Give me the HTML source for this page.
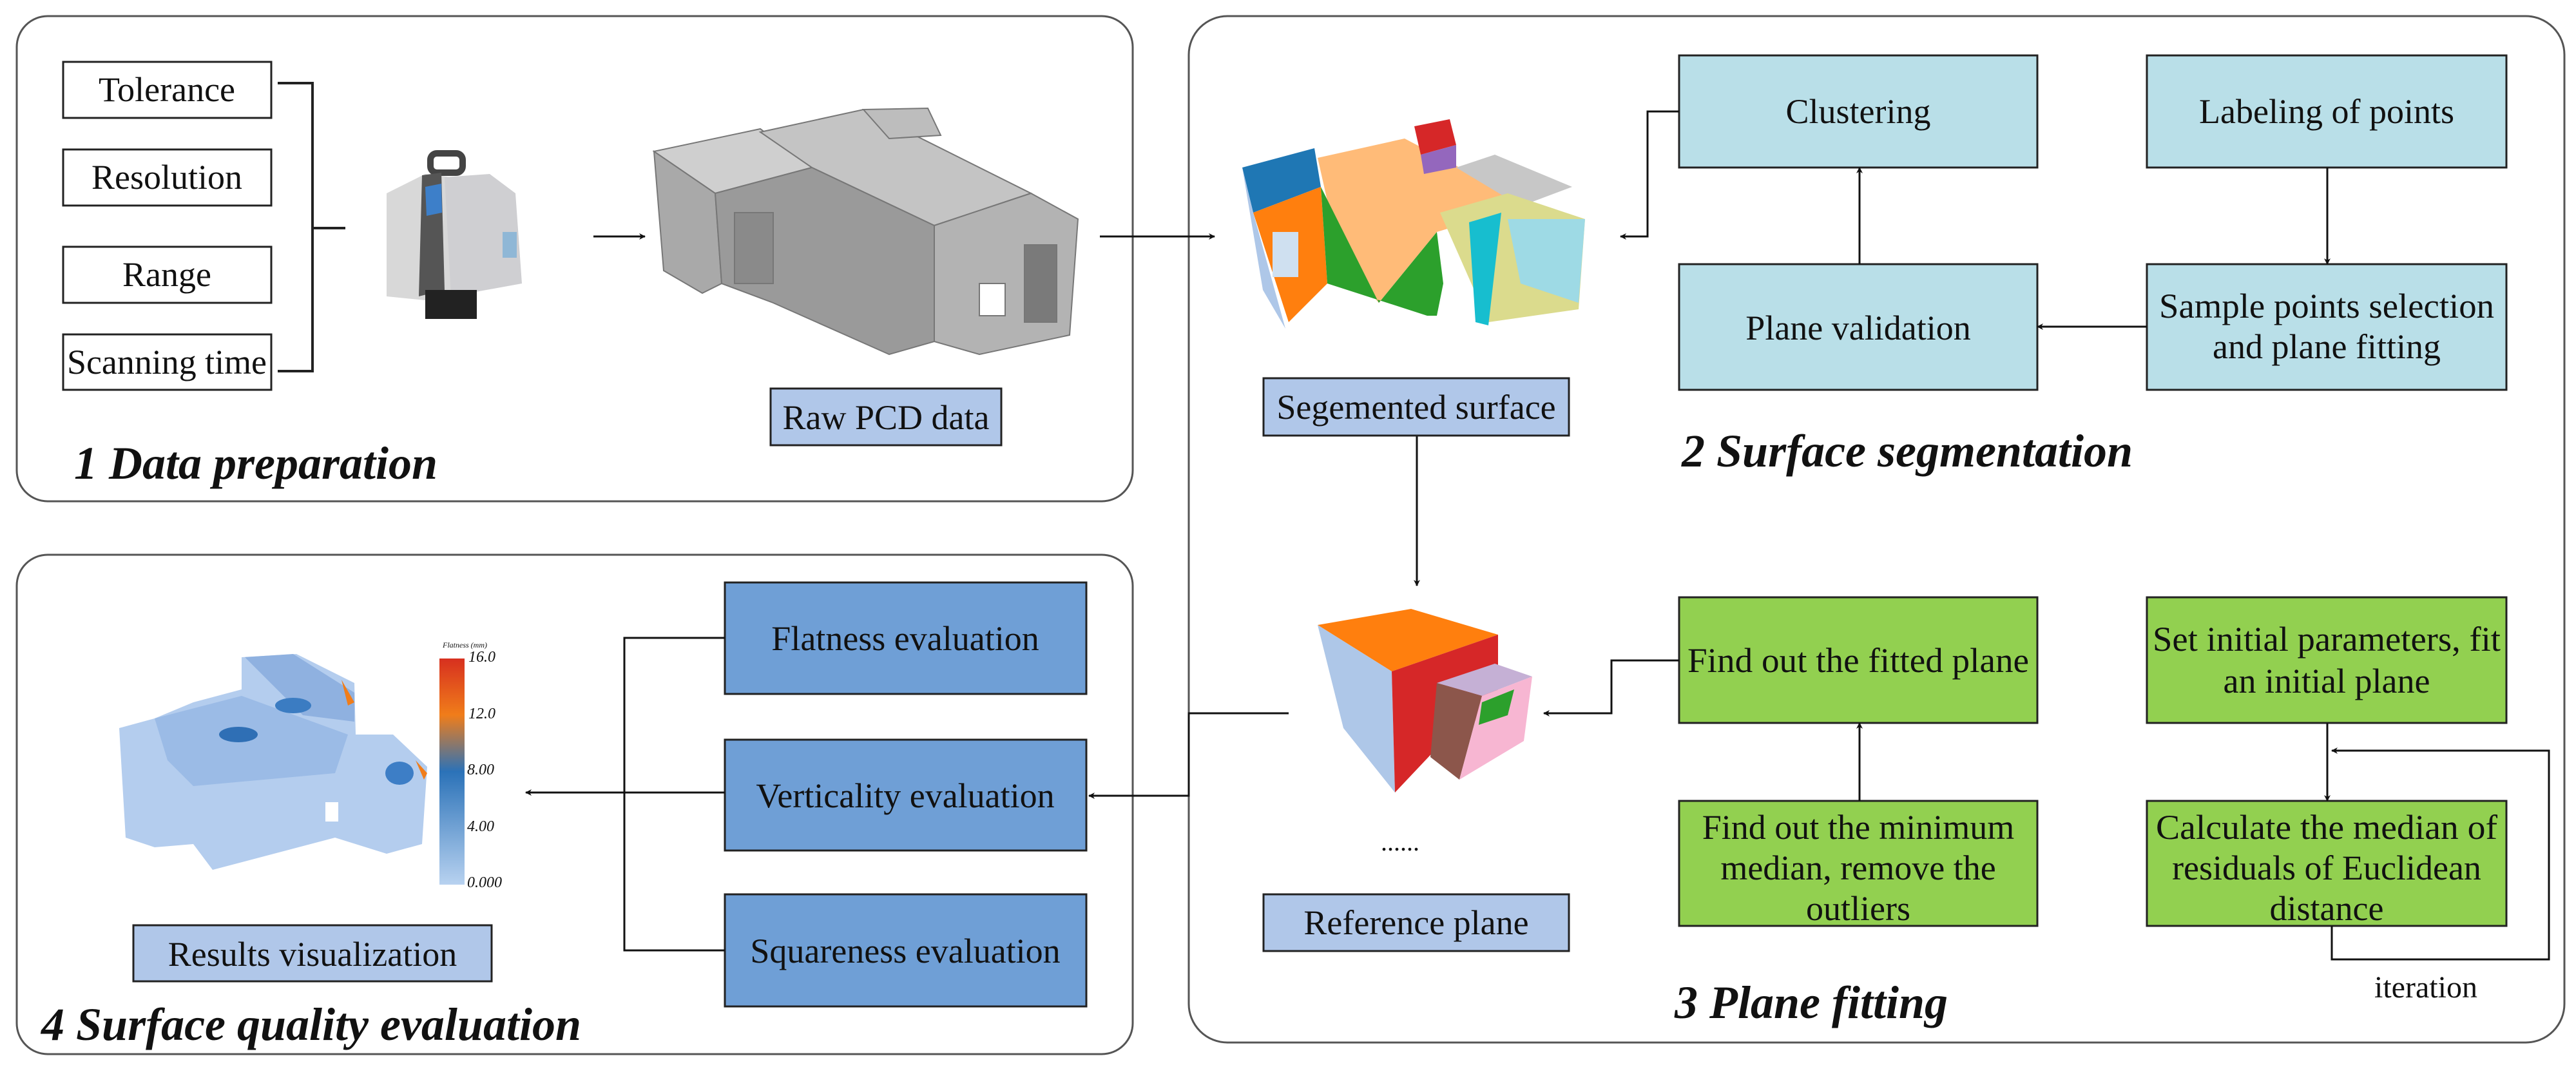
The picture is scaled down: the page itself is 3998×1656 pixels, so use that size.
<!DOCTYPE html>
<html><head><meta charset="utf-8"><style>
html,body{margin:0;padding:0;background:#fff;}
svg{display:block}
text{font-family:"Liberation Serif","Times New Roman",serif;fill:#111}
.t{font-family:"Liberation Serif","Times New Roman",serif;font-size:54px;text-anchor:middle}
.h{font-family:"Liberation Serif","Times New Roman",serif;font-size:72px;font-weight:bold;font-style:italic}
</style></head><body>
<svg width="3998" height="1656" viewBox="0 0 3998 1656" xmlns="http://www.w3.org/2000/svg" font-family="Liberation Serif, serif">
<defs>
<marker id="a" markerWidth="10" markerHeight="10" refX="9" refY="5" orient="auto" markerUnits="userSpaceOnUse" viewBox="0 0 10 10"><path d="M0,0 L10,5 L0,10 L3,5 z" fill="#111"/></marker>
<linearGradient id="cb" x1="0" y1="0" x2="0" y2="1">
<stop offset="0" stop-color="#d7301f"/><stop offset="0.25" stop-color="#f07d1a"/><stop offset="0.5" stop-color="#2b72b8"/><stop offset="1" stop-color="#b8d2f0"/></linearGradient>
</defs>
<g fill="none" stroke="#555" stroke-width="3">
<rect x="26" y="25" width="1732" height="753" rx="48"/>
<rect x="26" y="861" width="1732" height="775" rx="48"/>
<rect x="1845" y="25" width="2135" height="1593" rx="60"/>
</g>
<g fill="#fff" stroke="#222" stroke-width="3">
<rect x="98" y="96" width="323" height="87"/>
<rect x="98" y="232" width="323" height="87"/>
<rect x="98" y="383" width="323" height="87"/>
<rect x="98" y="519" width="323" height="86"/>
</g>
<text class="t" x="259" y="157">Tolerance</text>
<text class="t" x="259" y="293">Resolution</text>
<text class="t" x="259" y="444">Range</text>
<text class="t" x="259" y="580" textLength="310" lengthAdjust="spacingAndGlyphs">Scanning time</text>
<path d="M431,129 H485 V576 H431 M485,354 H536" fill="none" stroke="#222" stroke-width="4"/>
<g>
<rect x="668" y="238" width="50" height="30" rx="10" fill="none" stroke="#444" stroke-width="10"/>
<path d="M600,300 L660,270 L700,275 L700,470 L600,460 z" fill="#d8d8d8"/>
<path d="M655,272 L685,268 L690,450 L650,460 z" fill="#555"/>
<path d="M690,275 L760,270 L800,300 L810,440 L700,460 z" fill="#cfcfd2"/>
<rect x="780" y="360" width="22" height="40" fill="#8fb7d6"/>
<path d="M660,290 L685,285 L686,330 L662,335 z" fill="#3d7fc9"/>
<rect x="660" y="450" width="80" height="45" fill="#222"/>
</g>
<path d="M921,367 H1001" stroke="#111" stroke-width="3" marker-end="url(#a)"/>
<g stroke="#777" stroke-width="2">
<path d="M1015,235 L1180,200 L1260,260 L1110,300 z" fill="#cfcfcf"/>
<path d="M1180,205 L1340,170 L1600,300 L1450,350 L1260,260 z" fill="#c4c4c4"/>
<path d="M1340,170 L1440,168 L1460,210 L1380,215 z" fill="#bdbdbd"/>
<path d="M1015,235 L1110,300 L1120,440 L1090,455 L1030,420 z" fill="#a9a9a9"/>
<path d="M1110,300 L1260,260 L1450,350 L1450,530 L1380,550 L1200,470 L1120,440 z" fill="#9a9a9a"/>
<path d="M1450,350 L1600,300 L1673,340 L1660,520 L1520,550 L1450,530 z" fill="#b3b3b3"/>
<rect x="1140" y="330" width="60" height="110" fill="#8a8a8a"/>
<rect x="1590" y="380" width="50" height="120" fill="#7a7a7a"/>
<rect x="1520" y="440" width="40" height="50" fill="#fff"/>
</g>
<path d="M1707,367 H1885" stroke="#111" stroke-width="3" marker-end="url(#a)"/>
<rect x="1196" y="603" width="358" height="88" fill="#b0c7e9" stroke="#222" stroke-width="3"/>
<text class="t" x="1375" y="666">Raw PCD data</text>
<text class="h" x="115" y="743">1 Data preparation</text>
<g>
<path d="M1928,260 L2040,230 L2050,290 L1945,330 z" fill="#1f77b4"/>
<path d="M1928,260 L1945,330 L1995,510 L1960,450 z" fill="#aec7e8"/>
<path d="M1945,330 L2050,290 L2060,440 L2000,500 z" fill="#ff7f0e"/>
<rect x="1975" y="360" width="40" height="70" fill="#cfe0f0"/>
<path d="M2045,245 L2180,215 L2360,310 L2330,330 L2230,360 L2140,470 L2080,400 z" fill="#ffbb78"/>
<path d="M2050,290 L2140,470 L2230,360 L2240,440 L2230,490 L2215,490 L2060,440 z" fill="#2ca02c"/>
<path d="M2195,196 L2250,185 L2260,225 L2205,240 z" fill="#d62728"/>
<path d="M2205,240 L2260,225 L2260,260 L2210,270 z" fill="#9467bd"/>
<path d="M2260,260 L2320,240 L2440,290 L2360,320 z" fill="#c7c7c7"/>
<path d="M2235,330 L2340,300 L2460,340 L2450,480 L2310,500 z" fill="#dbdb8d"/>
<path d="M2280,345 L2330,330 L2310,505 L2290,500 z" fill="#17becf"/>
<path d="M2340,340 L2460,340 L2450,470 L2360,440 z" fill="#9edae5"/>
</g>
<g fill="#b9dfe8" stroke="#222" stroke-width="3">
<rect x="2606" y="86" width="556" height="174"/>
<rect x="3332" y="86" width="558" height="174"/>
<rect x="2606" y="410" width="556" height="195"/>
<rect x="3332" y="410" width="558" height="195"/>
</g>
<text class="t" x="2884" y="191">Clustering</text>
<text class="t" x="3611" y="191">Labeling of points</text>
<text class="t" x="2884" y="527">Plane validation</text>
<text class="t" x="3611" y="493" textLength="520" lengthAdjust="spacingAndGlyphs">Sample points selection</text>
<text class="t" x="3611" y="556">and plane fitting</text>
<g fill="none" stroke="#111" stroke-width="3">
<path d="M3612,260 V410" marker-end="url(#a)"/>
<path d="M2886,410 V260" marker-end="url(#a)"/>
<path d="M3332,507 H3162" marker-end="url(#a)"/>
<path d="M2606,173 H2557 V367 H2515" marker-end="url(#a)"/>
<path d="M2199,676 V909" marker-end="url(#a)"/>
</g>
<rect x="1961" y="587" width="474" height="89" fill="#b0c7e9" stroke="#222" stroke-width="3"/>
<text class="t" x="2198" y="650">Segemented surface</text>
<text class="h" x="2610" y="724">2 Surface segmentation</text>
<g>
<path d="M2045,970 L2190,945 L2325,985 L2160,1042 z" fill="#ff7f0e"/>
<path d="M2045,970 L2160,1042 L2165,1230 L2085,1130 z" fill="#aec7e8"/>
<path d="M2160,1042 L2325,985 L2325,1100 L2250,1140 L2165,1230 z" fill="#d62728"/>
<path d="M2230,1060 L2320,1030 L2378,1050 L2300,1080 z" fill="#c5b0d5"/>
<path d="M2230,1060 L2300,1080 L2265,1210 L2220,1175 z" fill="#8c564b"/>
<path d="M2300,1080 L2378,1050 L2365,1150 L2265,1210 z" fill="#f7b6d2"/>
<path d="M2300,1090 L2350,1070 L2340,1110 L2295,1125 z" fill="#2ca02c"/>
</g>
<text x="2143" y="1320" style="font-size:40px">......</text>
<g fill="#92d050" stroke="#222" stroke-width="3">
<rect x="2606" y="927" width="556" height="195"/>
<rect x="3332" y="927" width="558" height="195"/>
<rect x="2606" y="1243" width="556" height="194"/>
<rect x="3332" y="1243" width="558" height="194"/>
</g>
<text class="t" x="2884" y="1043" textLength="530" lengthAdjust="spacingAndGlyphs">Find out the fitted plane</text>
<text class="t" x="3611" y="1010" textLength="540" lengthAdjust="spacingAndGlyphs">Set initial parameters, fit</text>
<text class="t" x="3611" y="1075">an initial plane</text>
<text class="t" x="2884" y="1302">Find out the minimum</text>
<text class="t" x="2884" y="1365">median, remove the</text>
<text class="t" x="2884" y="1428">outliers</text>
<text class="t" x="3611" y="1302" textLength="530" lengthAdjust="spacingAndGlyphs">Calculate the median of</text>
<text class="t" x="3611" y="1365">residuals of Euclidean</text>
<text class="t" x="3611" y="1428">distance</text>
<g fill="none" stroke="#111" stroke-width="3">
<path d="M2886,1243 V1122" marker-end="url(#a)"/>
<path d="M3612,1122 V1243" marker-end="url(#a)"/>
<path d="M2606,1025 H2501 V1107 H2396" marker-end="url(#a)"/>
<path d="M3619,1437 V1489 H3956 V1165 H3619" marker-end="url(#a)"/>
<path d="M2000,1107 H1845 V1235 H1690" marker-end="url(#a)"/>
</g>
<rect x="1961" y="1388" width="474" height="88" fill="#b0c7e9" stroke="#222" stroke-width="3"/>
<text class="t" x="2198" y="1450">Reference plane</text>
<text x="3685" y="1548" style="font-size:48px">iteration</text>
<text class="h" x="2599" y="1580">3 Plane fitting</text>
<g fill="#6f9fd6" stroke="#222" stroke-width="3">
<rect x="1125" y="904" width="561" height="173"/>
<rect x="1125" y="1148" width="561" height="172"/>
<rect x="1125" y="1388" width="561" height="174"/>
</g>
<text class="t" x="1405" y="1009">Flatness evaluation</text>
<text class="t" x="1405" y="1253">Verticality evaluation</text>
<text class="t" x="1405" y="1494">Squareness evaluation</text>
<g fill="none" stroke="#111" stroke-width="3">
<path d="M1125,990 H969 V1475 H1125"/>
<path d="M1125,1230 H816" marker-end="url(#a)"/>
</g>
<g>
<path d="M185,1130 L240,1115 L300,1090 L375,1070 L375,1020 L460,1015 L550,1060 L552,1140 L610,1140 L663,1190 L655,1310 L600,1325 L520,1300 L330,1350 L300,1310 L240,1315 L195,1300 z" fill="#b4cdee"/>
<path d="M380,1020 L455,1015 L550,1075 L550,1120 L470,1110 z" fill="#8fb1e0"/>
<path d="M240,1115 L375,1080 L540,1140 L520,1200 L300,1220 L260,1180 z" fill="#9bbbe6"/>
<ellipse cx="370" cy="1140" rx="30" ry="12" fill="#2f6fb5"/>
<ellipse cx="455" cy="1095" rx="28" ry="12" fill="#3b7cc2"/>
<ellipse cx="620" cy="1200" rx="22" ry="18" fill="#3d7ec6"/>
<path d="M530,1055 L550,1090 L540,1095 z" fill="#f07d1a"/>
<path d="M645,1180 L663,1200 L658,1210 z" fill="#f07d1a"/>
<rect x="505" y="1245" width="20" height="30" fill="#fff"/>
</g>
<rect x="682" y="1022" width="39" height="351" fill="url(#cb)"/>
<g style="font-family:'Liberation Sans',sans-serif;font-style:italic;font-size:24px">
<text x="687" y="1005" style="font-size:12px">Flatness (mm)</text>
<text x="727" y="1027">16.0</text>
<text x="727" y="1115">12.0</text>
<text x="725" y="1202">8.00</text>
<text x="725" y="1290">4.00</text>
<text x="725" y="1377">0.000</text>
</g>
<rect x="207" y="1436" width="556" height="87" fill="#b0c7e9" stroke="#222" stroke-width="3"/>
<text class="t" x="485" y="1499">Results visualization</text>
<text class="h" x="64" y="1614">4 Surface quality evaluation</text>
</svg>
</body></html>
